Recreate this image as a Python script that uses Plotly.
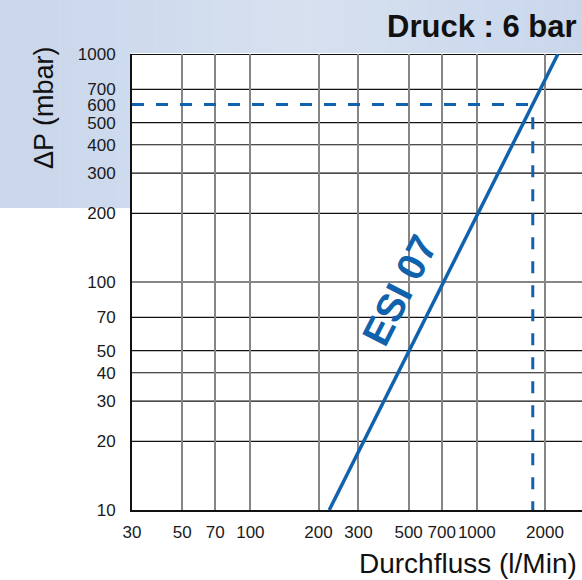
import math
import plotly.graph_objects as go

# ---- data ----
x_ticks = [30, 50, 70, 100, 200, 300, 500, 700, 1000, 2000]
x_ticktext = ["30", "50", "70", "100", "200", "300", "500", "700", "1000", "2000"]
y_ticks = [10, 20, 30, 40, 50, 70, 100, 200, 300, 400, 500, 600, 700, 1000]
y_ticktext = ["10", "20", "30", "40", "50", "70", "100", "200", "300", "400", "500", "600", "700", "1000"]
y_grid = [20, 30, 40, 50, 70, 100, 200, 300, 400, 500, 700, 1000]

esi_flow = [223, 2283]
esi_dp = [10, 1000]

op_flow = 1767
op_dp = 600

# ---- layout constants ----
W, H = 582, 580
ML, MR, MT, MB = 132, 0, 54, 70
PW, PH = W - ML - MR, H - MT - MB
BLUE = "#0f62ab"
FONT = "Liberation Sans, Arial, Helvetica, sans-serif"
X_MIN, X_MAX = 30, 2915
Y_MIN, Y_MAX = 10, 1000

fig = go.Figure()

# main curve
fig.add_trace(go.Scatter(x=esi_flow, y=esi_dp, mode="lines",
                         line=dict(color=BLUE, width=3.5), cliponaxis=True,
                         hoverinfo="skip", showlegend=False))
# operating point dashed guides
fig.add_trace(go.Scatter(x=[X_MIN, op_flow], y=[op_dp, op_dp], mode="lines",
                         line=dict(color=BLUE, width=3, dash="12px,12px"),
                         hoverinfo="skip", showlegend=False))
fig.add_trace(go.Scatter(x=[op_flow, op_flow], y=[op_dp * 0.88, Y_MIN], mode="lines",
                         line=dict(color=BLUE, width=3, dash="12px,12px"),
                         hoverinfo="skip", showlegend=False))

shapes = []


def px_to_paper_x(px):
    return (px - ML) / PW


def px_to_paper_y(py):
    return (H - MB - py) / PH


edge = (201, 214, 235)
mid = (215, 225, 240)
n = 30
for i in range(n):
    x0 = W * i / n
    x1 = W * (i + 1) / n
    t = min(abs(((x0 + x1) / 2) - 300) / 300, 1)
    c = tuple(int(mid[k] + (edge[k] - mid[k]) * t) for k in range(3))
    col = "rgb(%d,%d,%d)" % c
    shapes.append(dict(type="rect", xref="paper", yref="paper",
                       x0=px_to_paper_x(x0), x1=px_to_paper_x(x1 + 0.5),
                       y0=px_to_paper_y(53), y1=px_to_paper_y(0),
                       fillcolor=col, line=dict(width=0), layer="below"))
    if x0 < ML - 1:
        shapes.append(dict(type="rect", xref="paper", yref="paper",
                           x0=px_to_paper_x(x0), x1=px_to_paper_x(min(x1 + 0.5, ML - 1)),
                           y0=px_to_paper_y(208), y1=px_to_paper_y(53),
                           fillcolor=col, line=dict(width=0), layer="below"))

# horizontal grid lines (black)
for v in y_grid:
    shapes.append(dict(type="line", xref="paper", yref="y",
                       x0=0, x1=1, y0=v, y1=v,
                       line=dict(color="#111111", width=2 if v == Y_MAX else 1.2),
                       layer="below"))

fig.update_layout(
    width=W, height=H,
    margin=dict(l=ML, r=MR, t=MT, b=MB),
    paper_bgcolor="white", plot_bgcolor="white",
    shapes=shapes,
    font=dict(family=FONT, color="#1a1a1a"),
    xaxis=dict(type="log", range=[math.log10(X_MIN), math.log10(X_MAX)],
               tickmode="array", tickvals=x_ticks, ticktext=x_ticktext,
               tickangle=0,
               showgrid=True, gridcolor="#858585", gridwidth=2,
               showline=True, linecolor="#111111", linewidth=2,
               ticks="outside", ticklen=6, tickcolor="rgba(0,0,0,0)",
               tickfont=dict(size=17, family=FONT, color="#1a1a1a"),
               zeroline=False, layer="below traces"),
    yaxis=dict(type="log", range=[math.log10(Y_MIN), math.log10(Y_MAX)],
               tickmode="array", tickvals=y_ticks, ticktext=y_ticktext,
               showgrid=False,
               showline=True, linecolor="#111111", linewidth=2,
               ticks="outside", ticklen=11, tickcolor="rgba(0,0,0,0)",
               tickfont=dict(size=17, family=FONT, color="#1a1a1a"),
               zeroline=False),
    annotations=[
        dict(text="<b>Druck : 6 bar</b>", xref="paper", yref="paper",
             x=1, y=px_to_paper_y(26), xanchor="right", yanchor="middle",
             xshift=-3, showarrow=False,
             font=dict(size=31, family=FONT, color="#111111")),
        dict(text="Durchfluss (l/Min)", xref="paper", yref="paper",
             x=1, y=px_to_paper_y(563), xanchor="right", yanchor="middle",
             xshift=-3, showarrow=False,
             font=dict(size=28, family=FONT, color="#111111")),
        dict(text="ΔP (mbar)", xref="paper", yref="paper",
             x=px_to_paper_x(44), y=px_to_paper_y(108), xanchor="center", yanchor="middle",
             textangle=-90, showarrow=False,
             font=dict(size=27, family=FONT, color="#111111")),
        dict(text="<b>ESI 07</b>", xref="x", yref="y",
             x=math.log10(455), y=math.log10(92), xanchor="center", yanchor="middle",
             textangle=-63, showarrow=False,
             font=dict(size=39, family=FONT, color=BLUE)),
    ],
)

fig.write_html(
    "out.html",
    config={"displayModeBar": False},
    post_script="document.body.style.margin='0';document.body.style.padding='0';"
                "document.documentElement.style.overflow='hidden';",
)
